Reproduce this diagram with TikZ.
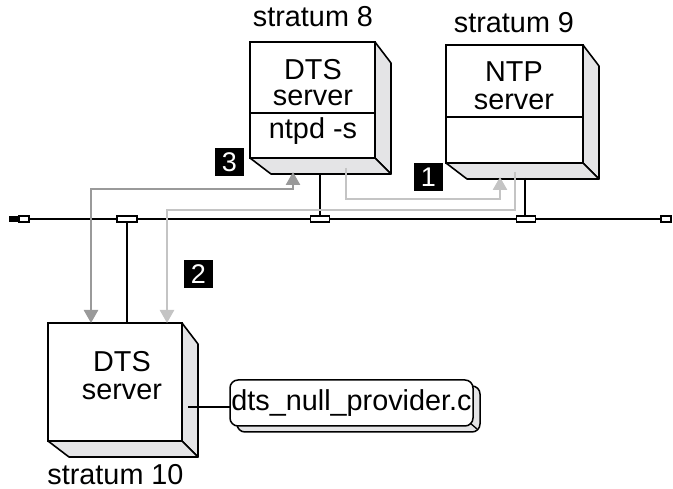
\documentclass[tikz,border=0pt]{standalone}
\usepackage{fontspec}
\setmainfont{Liberation Sans}
\usetikzlibrary{arrows.meta,calc}
\definecolor{sidegray}{HTML}{E4E4E6}
\definecolor{darkarrow}{HTML}{9A9A9A}
\definecolor{lightarrow}{HTML}{C4C4C4}
\begin{document}
\begin{tikzpicture}[x=1pt,y=-1pt,
  every node/.style={font=\fontsize{28.8}{30}\selectfont, inner sep=0pt, outer sep=0pt},
  face/.style={draw=black, line width=1.6pt, fill=white, anchor=north west},
  sideface/.style={draw=black, line width=1.6pt, fill=sidegray, line join=round},
  lbl/.style={fill=black, text=white, minimum width=29pt, minimum height=28pt, font=\fontsize{27}{27}\selectfont},
  txt/.style={anchor=base},
  busline/.style={line width=2.4pt, black},
  tapbox/.style={draw=black, fill=white, line width=1.4pt, minimum width=19pt, minimum height=6pt},
  lightflow/.style={line width=2.6pt, lightarrow, -{Triangle[length=13pt,width=14pt]}},
  darkflow/.style={line width=2.6pt, darkarrow, {Triangle[length=13pt,width=14pt]}-{Triangle[length=13pt,width=14pt]}},
  filebox/.style={draw=black, line width=1.5pt, rounded corners=8pt, minimum width=243pt, minimum height=46pt, anchor=north west},
]
\useasboundingbox (0,0) rectangle (673,489);

% ---- server A (stratum 8)
\node[face, minimum width=125pt, minimum height=116pt] (A) at (250,42) {};
\filldraw[sideface] (A.north east) -- ++(16,21) -- ($(A.south east)+(16,16)$) -- (A.south east) -- cycle;
\filldraw[sideface] (A.south west) -- (A.south east) -- ++(16,16) -- ($(A.south west)+(21,16)$) -- cycle;
\draw[line width=1.6pt] ($(A.north west)+(0,71)$) -- ($(A.north east)+(0,71)$);
\node[txt] (Alab) at (313,27) {stratum 8};
\node[txt] (A1) at (313,80) {DTS};
\node[txt] (A2) at (313,106) {server};
\node[txt] (A3) at (313,139) {ntpd -s};

% ---- server B (stratum 9)
\node[face, minimum width=137pt, minimum height=118pt] (B) at (446,45) {};
\filldraw[sideface] (B.north east) -- ++(16,21) -- ($(B.south east)+(16,16)$) -- (B.south east) -- cycle;
\filldraw[sideface] (B.south west) -- (B.south east) -- ++(16,16) -- ($(B.south west)+(21,16)$) -- cycle;
\draw[line width=1.6pt] ($(B.north west)+(0,72)$) -- ($(B.north east)+(0,72)$);
\node[txt] (Blab) at (514,33) {stratum 9};
\node[txt] (B1) at (514,82) {NTP};
\node[txt] (B2) at (514,110) {server};

% ---- server C (stratum 10)
\node[face, minimum width=134pt, minimum height=118pt] (C) at (48,323) {};
\filldraw[sideface] (C.north east) -- ++(16,21) -- ($(C.south east)+(16,16)$) -- (C.south east) -- cycle;
\filldraw[sideface] (C.south west) -- (C.south east) -- ++(16,16) -- ($(C.south west)+(21,16)$) -- cycle;
\node[txt] (C1) at (122,372) {DTS};
\node[txt] (C2) at (122,400) {server};
\node[txt] (Clab) at (115.5,484) {stratum 10};

% ---- bus
\node[fill=black, minimum width=10pt, minimum height=6.5pt, anchor=west] (capL) at (9,219) {};
\node[tapbox, minimum width=10pt, anchor=west] (capLw) at (19,219) {};
\node[tapbox, minimum width=10pt, anchor=east] (capR) at (671,219) {};
\draw[busline] (capLw.east) -- (capR.west);
\coordinate (Abot) at (320,174);
\coordinate (Bbot) at (525,178);
\coordinate (Ctop) at (127,323);
\draw[busline] (Abot) -- (320,219);
\draw[busline] (Bbot) -- (525,219);
\draw[busline] (127,219) -- (Ctop);
\node[tapbox] (tA) at (320,219) {};
\node[tapbox] (tB) at (526,219) {};
\node[tapbox, minimum width=20pt] (tC) at (127,219) {};

% ---- flows
\coordinate (a1s) at (346,168);
\coordinate (a1e) at (500,177);
\draw[lightflow] (a1s) -- (346,199) -| (a1e);
\coordinate (a2s) at (515,172);
\coordinate (a2e) at (167,323);
\draw[lightflow] (a2s) |- (167,210) -- (a2e);
\coordinate (a3s) at (293,172);
\coordinate (a3e) at (91,323);
\draw[darkflow] (a3s) -- (293,189) -| (a3e);

% ---- step labels
\node[lbl] (n3) at (229.5,162) {3};
\node[lbl] (n1) at (428.5,177.5) {1};
\node[lbl] (n2) at (198.5,274) {2};

% ---- file
\node[filebox, fill=sidegray] (Fs) at (237,386) {};
\node[filebox, fill=white] (F) at (230,380) {};
\node[anchor=base] (Ftxt) at (351.5,411) {dts\_null\_provider.c};
\draw[line width=1.3pt] (470,423) -- (477,429);
\coordinate (Cside) at (188,407);
\draw[line width=1.5pt] (Cside) -- (F.west |- Cside);
\end{tikzpicture}
\end{document}
